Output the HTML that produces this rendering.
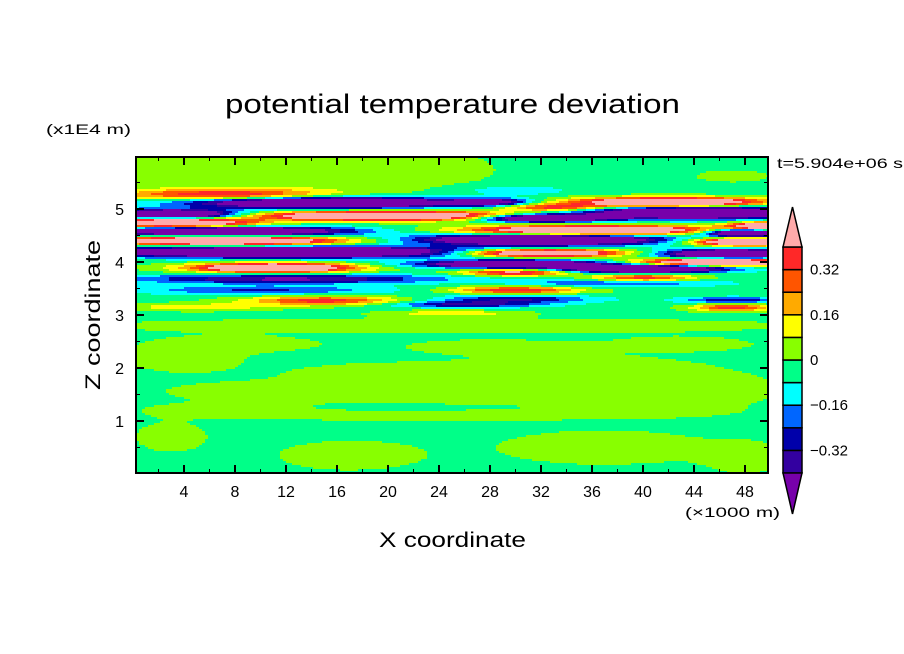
<!DOCTYPE html>
<html><head><meta charset="utf-8"><style>
body{margin:0;background:#fff;width:904px;height:654px;overflow:hidden;position:relative;font-family:"Liberation Sans",sans-serif}
#fld{position:absolute;left:136px;top:157px;image-rendering:pixelated}
svg{position:absolute;left:0;top:0}
text{font-family:"Liberation Sans",sans-serif;fill:#000}
</style></head><body>
<canvas id="fld" width="632" height="316"></canvas>
<svg id="ov" width="904" height="654">
<text x="225" y="113" font-size="27" textLength="455" lengthAdjust="spacingAndGlyphs">potential temperature deviation</text>
<text x="46" y="134" font-size="14" textLength="85" lengthAdjust="spacingAndGlyphs">(x1E4 m)</text>
<text x="777" y="168" font-size="14" textLength="126" lengthAdjust="spacingAndGlyphs">t=5.904e+06 s</text>
<text x="685" y="517" font-size="14" textLength="95" lengthAdjust="spacingAndGlyphs">(×1000 m)</text>
<text x="379" y="547" font-size="21" textLength="147" lengthAdjust="spacingAndGlyphs">X coordinate</text>
<text transform="translate(100,390) rotate(-90)" font-size="21" textLength="150" lengthAdjust="spacingAndGlyphs">Z coordinate</text>
<g id="axes"></g>
<g id="cbar"></g>
</svg>
<script>
const levels=[-0.4,-0.32,-0.24,-0.16,-0.08,0,0.08,0.16,0.24,0.32,0.4];
const colors=["#7700aa","#3300a0","#0000aa","#0066ff","#00ffff","#00ff88","#88ff00","#ffff00","#ffaa00","#ff5500","#ff2828","#ffaaaa"];
const xTicks=[4,8,12,16,20,24,28,32,36,40,44,48];
const zTicks=[1,2,3,4,5];
const cbLabels=[0.32,0.16,0,-0.16,-0.32];
// blobs: [x km, z (1E4 m), amplitude, x half-width, z half-width]
const bandBlobs=[
[7,5.27,0.42,8,0.11],[15,5.12,-0.9,10,0.1],[28,5.13,-0.45,3,0.07],[3,4.9,-0.9,5,0.085],
[3,4.74,0.9,6,0.085],[20,4.87,0.9,10,0.085],[7,4.58,-0.9,9,0.085],[7,4.4,0.9,9,0.085],
[12,4.19,-0.9,14,0.1],[11,3.89,0.9,6,0.085],[12,3.68,-0.4,12,0.085],[15,3.27,0.4,6,0.085],
[10,3.47,-0.22,10,0.085],[30,5.35,-0.13,4,0.085],[42,5.13,0.9,7,0.085],[33,5.03,0.42,4,0.07],
[44,4.93,-0.9,8,0.11],[32,4.83,-0.9,5,0.07],[36,4.6,0.9,9,0.085],[50,4.68,0.9,3,0.07],
[32,4.42,-0.9,9,0.1],[48,4.55,-0.9,3,0.07],[48,4.38,0.9,4,0.07],[32,4.17,0.9,6,0.07],
[47,4.15,-0.9,5,0.085],[30,3.96,-0.8,7,0.07],[46,4.0,0.9,6,0.07],[40,3.87,-0.9,6,0.07],
[30,3.8,0.5,4,0.06],[40,3.7,0.4,4,0.07],[30,3.47,0.42,5,0.07],[30,3.3,-0.3,6,0.07],
[47,3.28,-0.28,4,0.06],[47,3.14,0.4,3,0.07],[26,3.2,-0.32,6,0.06],[25,3.03,0.17,5,0.06],
[5,3.15,0.17,6,0.07],[38,3.6,-0.22,8,0.07]];
const bgBlobs=[
[13,5.75,0.1,14,0.5],[47,5.62,0.07,3,0.12],[25,2.8,0.07,30,0.15],[4,2.2,0.07,5,0.3],
[20,1.9,0.07,8,0.2],[35,2.0,0.07,10,0.25],[12,1.55,0.07,10,0.2],[30,1.5,0.07,12,0.2],
[45,1.6,0.07,6,0.3],[3,0.7,0.07,3,0.3],[17,0.35,0.07,6,0.3],[37,0.5,0.07,9,0.35],
[48,0.3,0.07,3,0.3],[22,1.1,0.07,15,0.1],[9,2.45,0.07,6,0.14],[28,2.4,0.07,7,0.14],
[43,2.45,0.07,6,0.14],[7,1.22,0.07,6,0.12],[40,1.2,0.07,7,0.12]];
const baseValue=-0.03;
const X0=133,XS=12.75,Z0=474,ZS=53;
const px=v=>X0+XS*v, pz=v=>Z0-ZS*v;
function field(x,z){let v=baseValue;for(const b of bandBlobs.concat(bgBlobs)){const dx=(x-b[0])/b[3],dz=(z-b[1])/b[4];v+=b[2]*Math.exp(-dx*dx-dz*dz);}return v;}
function colorOf(v){let i=0;while(i<levels.length&&v>=levels[i])i++;return colors[i];}
const cv=document.getElementById('fld'),ctx=cv.getContext('2d');
for(let j=0;j<316;j+=2){for(let i=0;i<632;i+=3){const x=(136+i+1.5-X0)/XS,z=(Z0-(157+j+1))/ZS;ctx.fillStyle=colorOf(field(x,z));ctx.fillRect(i,j,3,2);}}
const NS='http://www.w3.org/2000/svg';
function mk(tag,attrs,parent){const e=document.createElementNS(NS,tag);for(const k in attrs)e.setAttribute(k,attrs[k]);parent.appendChild(e);return e;}
const ax=document.getElementById('axes');
const fr=mk('rect',{x:136,y:157,width:632,height:316,fill:'none',stroke:'#000','stroke-width':2},ax);


for(let k=2;k<=48;k+=2){const major=k%4===0,L=major?8:4,X=px(k);
mk('line',{x1:X,y1:473,x2:X,y2:473-L,stroke:'#000','stroke-width':major?2:1},ax);
mk('line',{x1:X,y1:157,x2:X,y2:157+L,stroke:'#000','stroke-width':major?2:1},ax);}
xTicks.forEach(t=>{const e=mk('text',{x:px(t),y:497,'font-size':16,'text-anchor':'middle'},ax);e.textContent=t;

});
for(let k=0.5;k<6;k+=0.5){const major=Math.abs(k-Math.round(k))<0.01,L=major?8:4,Y=pz(k);
mk('line',{x1:136,y1:Y,x2:136+L,y2:Y,stroke:'#000','stroke-width':major?2:1},ax);
mk('line',{x1:768,y1:Y,x2:768-L,y2:Y,stroke:'#000','stroke-width':major?2:1},ax);}
zTicks.forEach(t=>{const e=mk('text',{x:124,y:pz(t)+6,'font-size':16,'text-anchor':'end'},ax);e.textContent=t;

});
const cb=document.getElementById('cbar');
const CX=783,CW=19,CT=247,CB=473,bh=(CB-CT)/10;
const cbY=v=>CT+(0.4-v)/0.08*bh;
for(let i=0;i<10;i++){const r=mk('rect',{x:CX,y:cbY(levels[i+1]),width:CW,height:bh,fill:colors[i+1],stroke:'#000','stroke-width':1.5},cb);

}
const tu=mk('polygon',{points:`${CX},${CT} ${CX+CW},${CT} ${CX+CW/2},${CT-40}`,fill:colors[11],stroke:'#000','stroke-width':1.5},cb);


const td=mk('polygon',{points:`${CX},${CB} ${CX+CW},${CB} ${CX+CW/2},${CB+41}`,fill:colors[0],stroke:'#000','stroke-width':1.5},cb);


cbLabels.forEach(v=>{const e=mk('text',{x:810,y:cbY(v)+5,'font-size':15},cb);e.textContent=(v<0?'\u2212'+(-v):v);

});
</script>
</body></html>
